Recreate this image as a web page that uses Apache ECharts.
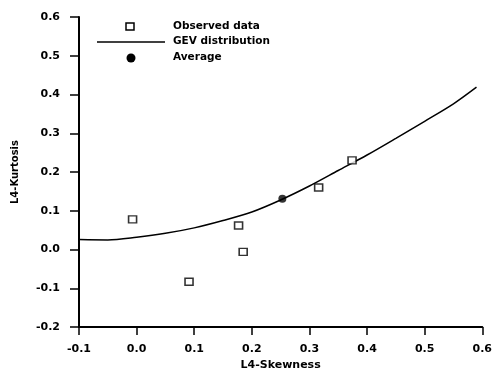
<!DOCTYPE html>
<html>
<head>
<meta charset="utf-8">
<script src="https://cdn.jsdelivr.net/npm/echarts@6/dist/echarts.min.js"></script>
<style>html,body{margin:0;padding:0;background:#fff}#c{width:495px;height:376px}</style>
</head>
<body>
<div id="c"></div>
<script>
// Observed data (L4-Skewness, L4-Kurtosis)
var observedSkew = [-0.007, 0.091, 0.177, 0.185, 0.316, 0.374];
var observedKurt = [0.078, -0.083, 0.062, -0.006, 0.160, 0.230];
// Average point
var averageSkew = [0.253];
var averageKurt = [0.131];
// GEV distribution curve
var gevSkew = [-0.1, -0.05, 0.0, 0.05, 0.1, 0.15, 0.2, 0.25, 0.3, 0.35, 0.4, 0.45, 0.5, 0.55, 0.59];
var gevKurt = [0.026, 0.025, 0.032, 0.042, 0.056, 0.075, 0.097, 0.128, 0.164, 0.204, 0.244, 0.287, 0.331, 0.376, 0.419];
// Axis ticks
var xTicks = [-0.1, 0.0, 0.1, 0.2, 0.3, 0.4, 0.5, 0.6];
var yTicks = [-0.2, -0.1, 0.0, 0.1, 0.2, 0.3, 0.4, 0.5, 0.6];
var legendNames = ['Observed data', 'GEV distribution', 'Average'];

function zip(a, b) { return a.map(function (v, i) { return [v, b[i]]; }); }
var FONT = 'DejaVu Sans';

var chart = echarts.init(document.getElementById('c'));
chart.setOption({
  backgroundColor: '#fff',
  animation: false,
  grid: { left: 79, right: 10, top: 17, bottom: 43 },
  xAxis: {
    type: 'value', min: xTicks[0], max: xTicks[xTicks.length - 1], interval: 0.1,
    name: 'L4-Skewness', nameLocation: 'middle', nameGap: 28,
    nameTextStyle: { fontFamily: FONT, fontWeight: 'bold', fontSize: 11, color: '#000' },
    axisLine: { show: true, onZero: false, lineStyle: { color: '#000', width: 2 } },
    axisTick: { show: true, inside: false, length: 8, lineStyle: { color: '#000', width: 1.5 } },
    axisLabel: { margin: 17, fontFamily: FONT, fontWeight: 'bold', fontSize: 11, color: '#000',
      formatter: function (v) { return v.toFixed(1); } },
    splitLine: { show: false }
  },
  yAxis: {
    type: 'value', min: yTicks[0], max: yTicks[yTicks.length - 1], interval: 0.1,
    name: 'L4-Kurtosis', nameLocation: 'middle', nameGap: 59, nameRotate: 90,
    nameTextStyle: { fontFamily: FONT, fontWeight: 'bold', fontSize: 10, color: '#000' },
    axisLine: { show: true, onZero: false, lineStyle: { color: '#000', width: 2 } },
    axisTick: { show: true, inside: false, length: 9, lineStyle: { color: '#000', width: 1.5 } },
    axisLabel: { margin: 19, fontFamily: FONT, fontWeight: 'bold', fontSize: 11, color: '#000',
      formatter: function (v) { return v.toFixed(1); } },
    splitLine: { show: false }
  },
  graphic: [
    { type: 'rect', shape: { x: 126, y: 23, width: 8, height: 7 }, style: { fill: '#fff', stroke: '#000', lineWidth: 1.5 } },
    { type: 'text', left: 173, top: 21, style: { text: legendNames[0], font: 'bold 10.5px "DejaVu Sans"', fill: '#000' } },
    { type: 'line', shape: { x1: 97, y1: 42, x2: 165, y2: 42 }, style: { stroke: '#000', lineWidth: 1.5 } },
    { type: 'text', left: 173, top: 36, style: { text: legendNames[1], font: 'bold 10.5px "DejaVu Sans"', fill: '#000' } },
    { type: 'circle', shape: { cx: 131, cy: 58, r: 4.5 }, style: { fill: '#000' } },
    { type: 'text', left: 173, top: 52, style: { text: legendNames[2], font: 'bold 10.5px "DejaVu Sans"', fill: '#000' } }
  ],
  series: [
    {
      name: legendNames[1], type: 'line', data: zip(gevSkew, gevKurt), smooth: 0.3,
      showSymbol: false, lineStyle: { color: '#000', width: 1.5 }, z: 2
    },
    {
      name: legendNames[0], type: 'scatter', data: zip(observedSkew, observedKurt),
      symbol: 'rect', symbolSize: [8, 7],
      itemStyle: { color: '#fff', borderColor: '#000', borderWidth: 1.5 }, z: 3
    },
    {
      name: legendNames[2], type: 'scatter', data: zip(averageSkew, averageKurt),
      symbol: 'circle', symbolSize: 8, itemStyle: { color: '#000' }, z: 4
    }
  ]
});
</script>
</body>
</html>
